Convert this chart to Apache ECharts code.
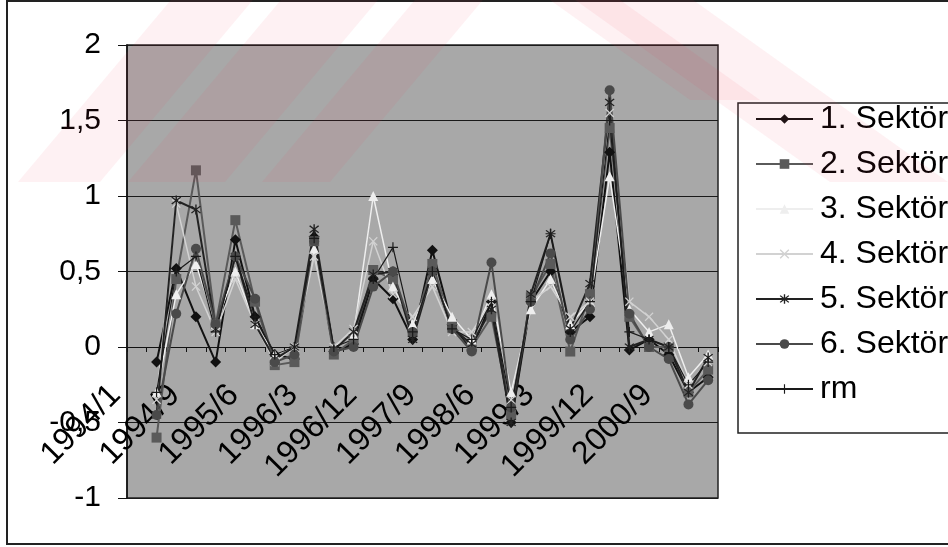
<!DOCTYPE html>
<html>
<head>
<meta charset="utf-8">
<script src="https://cdn.jsdelivr.net/npm/echarts@6/dist/echarts.min.js"></script>
<style>
  html, body { margin: 0; padding: 0; background: #ffffff; }
  #chart { width: 948px; height: 547px; }
</style>
</head>
<body>
<div id="chart"></div>
<script>
// Quarterly periods (first period has no return value)
const categories = [
  '1994/1', '1994/3', '1994/6', '1994/9', '1994/12',
  '1995/3', '1995/6', '1995/9', '1995/12',
  '1996/3', '1996/6', '1996/9', '1996/12',
  '1997/3', '1997/6', '1997/9', '1997/12',
  '1998/3', '1998/6', '1998/9', '1998/12',
  '1999/3', '1999/6', '1999/9', '1999/12',
  '2000/3', '2000/6', '2000/9', '2000/12',
  '2001/3'
];

const yTicks = [-1, -0.5, 0, 0.5, 1, 1.5, 2];

const sektor1 = [null, -0.10, 0.52, 0.20, -0.10, 0.71, 0.20, -0.05, -0.08, 0.73, -0.03, 0.02, 0.45, 0.32, 0.05, 0.64, 0.15, -0.02, 0.30, -0.50, 0.30, 0.50, 0.10, 0.20, 1.29, -0.02, 0.05, -0.05, -0.30, -0.20];
const sektor2 = [null, -0.60, 0.45, 1.17, 0.15, 0.84, 0.30, -0.12, -0.10, 0.70, -0.05, 0.05, 0.51, 0.45, 0.10, 0.55, 0.15, 0.00, 0.20, -0.45, 0.33, 0.55, -0.03, 0.35, 1.45, 0.20, 0.00, 0.00, -0.30, -0.15];
const sektor3 = [null, -0.30, 0.35, 0.55, 0.15, 0.50, 0.15, -0.05, 0.00, 0.65, 0.00, 0.08, 1.00, 0.40, 0.15, 0.45, 0.20, 0.05, 0.35, -0.30, 0.25, 0.45, 0.15, 0.30, 1.13, 0.25, 0.10, 0.15, -0.20, -0.05];
const sektor4 = [null, -0.35, 0.95, 0.40, 0.10, 0.45, 0.15, -0.10, 0.00, 0.60, 0.00, 0.12, 0.70, 0.35, 0.20, 0.40, 0.10, 0.10, 0.30, -0.35, 0.30, 0.40, 0.20, 0.30, 1.55, 0.30, 0.20, 0.05, -0.25, -0.10];
const sektor5 = [null, -0.45, 0.97, 0.91, 0.12, 0.60, 0.15, -0.08, 0.00, 0.78, -0.02, 0.10, 0.48, 0.50, 0.05, 0.50, 0.12, 0.02, 0.25, -0.50, 0.35, 0.75, 0.12, 0.42, 1.62, 0.00, 0.05, 0.00, -0.30, -0.07];
const sektor6 = [null, -0.45, 0.22, 0.65, 0.15, 0.60, 0.32, -0.10, -0.05, 0.70, -0.03, 0.00, 0.40, 0.50, 0.10, 0.50, 0.12, -0.03, 0.56, -0.40, 0.30, 0.62, 0.05, 0.25, 1.70, 0.22, 0.00, -0.08, -0.38, -0.22];
const rm      = [null, -0.30, 0.50, 0.60, 0.10, 0.60, 0.20, -0.05, 0.00, 0.72, 0.00, 0.05, 0.45, 0.66, 0.10, 0.50, 0.12, 0.05, 0.30, -0.40, 0.30, 0.75, 0.10, 0.30, 1.50, 0.10, 0.05, 0.00, -0.25, -0.10];

const seriesNames = ['1. Sektör', '2. Sektör', '3. Sektör', '4. Sektör', '5. Sektör', '6. Sektör', 'rm'];

// Marker shapes
const X_PATH = 'path://M1,0L5,4L9,0L10,1L6,5L10,9L9,10L5,6L1,10L0,9L4,5L0,1Z';
const STAR_PATH = 'path://M1,0L5,4L9,0L10,1L6,5L10,9L9,10L5,6L1,10L0,9L4,5L0,1ZM4.3,-1.5H5.7V11.5H4.3Z';
const PLUS_PATH = 'path://M4.4,0H5.6V10H4.4ZM0,4.4H10V5.6H0Z';

const FONT = '"Liberation Sans", Arial, sans-serif';

// Plot box in pixels
const GRID = { left: 127, right: 230, top: 45, bottom: 49 };
const plotHeight = 547 - GRID.top - GRID.bottom;
// distance from the bottom of the plot up to the zero line
const zeroLift = plotHeight * (0 - yTicks[0]) / (yTicks[yTicks.length - 1] - yTicks[0]);

function lineSeries(name, data, color, symbol, size, width) {
  return {
    name: name,
    type: 'line',
    data: data,
    symbol: symbol,
    symbolSize: size,
    showSymbol: true,
    connectNulls: false,
    animation: false,
    lineStyle: { color: color, width: width },
    itemStyle: { color: color, borderColor: color, borderWidth: 0 },
    emphasis: { disabled: true }
  };
}

const chart = echarts.init(document.getElementById('chart'), null, { renderer: 'canvas' });

// Faint pink diagonal bands of the page watermark
function band(x0, x1, slope, yTop, yBot) {
  const h = yBot - yTop;
  return [[x0, yBot], [x1, yBot], [x1 + slope * h, yTop], [x0 + slope * h, yTop]];
}
const wmFill = 'rgba(235,60,85,0.07)';
const watermark = [
  band(18, 100, 0.84, 0, 182),
  band(128, 225, 0.84, 0, 182),
  band(262, 330, 0.84, 0, 182),
  band(830, 948, -1.4, 0, 182),
  band(690, 760, -1.4, 0, 100)
].map(function (pts) {
  return {
    type: 'polygon',
    silent: true,
    z: 100,
    shape: { points: pts },
    style: { fill: wmFill }
  };
});

chart.setOption({
  animation: false,
  backgroundColor: '#ffffff',
  grid: {
    left: GRID.left, right: GRID.right, top: GRID.top, bottom: GRID.bottom,
    outerBoundsMode: 'none',
    containLabel: false,
    show: true,
    backgroundColor: '#a8a8a8',
    borderColor: '#222222',
    borderWidth: 1.5
  },
  legend: {
    orient: 'vertical',
    left: 750,
    top: 98,
    itemWidth: 57,
    itemHeight: 12,
    itemGap: 13,
    data: seriesNames,
    textStyle: { fontFamily: FONT, fontSize: 32, color: '#000000', padding: [0, 0, 0, 2] },
    selectedMode: false
  },
  xAxis: {
    type: 'category',
    data: categories,
    boundaryGap: true,
    position: 'bottom',
    offset: -zeroLift,
    axisLine: { show: true, onZero: false, lineStyle: { color: '#111111', width: 1.2 } },
    axisTick: { show: true, interval: 0, length: 5, lineStyle: { color: '#111111' } },
    axisLabel: {
      interval: 2,
      rotate: 45,
      margin: 22,
      padding: [0, 30, 0, 0],
      hideOverlap: false,
      fontFamily: FONT,
      fontSize: 32,
      color: '#000000'
    },
    splitLine: { show: false }
  },
  yAxis: {
    type: 'value',
    min: yTicks[0],
    max: yTicks[yTicks.length - 1],
    interval: 0.5,
    axisLine: { show: true, lineStyle: { color: '#111111', width: 1.5 } },
    axisTick: { show: true, length: 9, lineStyle: { color: '#111111' } },
    axisLabel: {
      margin: 26,
      fontFamily: FONT,
      fontSize: 30,
      color: '#000000',
      formatter: function (v) { return String(v).replace('.', ','); }
    },
    splitLine: { show: true, lineStyle: { color: '#1a1a1a', width: 1.2 } }
  },
  graphic: [
    {
      type: 'rect', silent: true, z: -10,
      shape: { x: 7, y: 1, width: 960, height: 543 },
      style: { fill: 'none', stroke: '#222222', lineWidth: 2 }
    },
    {
      type: 'rect', silent: true, z: -5,
      shape: { x: 738, y: 103, width: 230, height: 330 },
      style: { fill: '#ffffff', stroke: '#222222', lineWidth: 1.5 }
    }
  ].concat(watermark),
  series: [
    lineSeries(seriesNames[0], sektor1, '#111111', 'diamond', 11, 2),
    lineSeries(seriesNames[1], sektor2, '#5a5a5a', 'rect', 10, 2),
    lineSeries(seriesNames[2], sektor3, '#eeeeee', 'triangle', 10, 1.5),
    lineSeries(seriesNames[3], sektor4, '#d2d2d2', X_PATH, 9, 1.5),
    lineSeries(seriesNames[4], sektor5, '#222222', STAR_PATH, 10, 2),
    lineSeries(seriesNames[5], sektor6, '#4a4a4a', 'circle', 10, 2),
    lineSeries(seriesNames[6], rm, '#1a1a1a', PLUS_PATH, 10, 1.2)
  ]
});
</script>
</body>
</html>
